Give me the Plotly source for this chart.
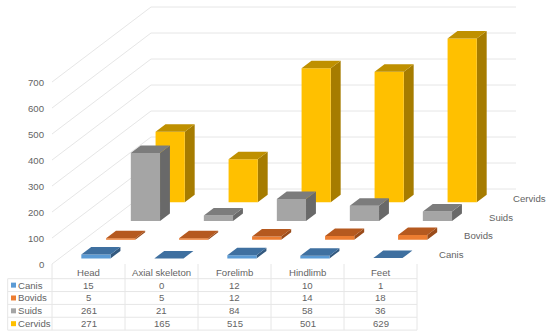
import plotly.graph_objects as go

# ---------- data ----------
categories = ["Head", "Axial skeleton", "Forelimb", "Hindlimb", "Feet"]
series_names = ["Canis", "Bovids", "Suids", "Cervids"]
canis = [15, 0, 12, 10, 1]
bovids = [5, 5, 12, 14, 18]
suids = [261, 21, 84, 58, 36]
cervids = [271, 165, 515, 501, 629]
value_ticks = [0, 100, 200, 300, 400, 500, 600, 700]

series_values = [canis, bovids, suids, cervids]
front_colors = ["#5B9BD5", "#ED7D31", "#A5A5A5", "#FFC000"]
top_colors = ["#3F70A0", "#B5591F", "#7C7C7C", "#BF9000"]
side_colors = ["#33597F", "#9A4C1B", "#696969", "#A67C00"]

# ---------- layout constants ----------
W, H = 550, 336
LEFT_PX, ZERO_PX = 52.0, 264.0      # front-left floor corner
CAT_PX, VAL_PX = 73.0, 0.26         # px per category, px per value unit
DEPTH_X_PX, DEPTH_Y_PX = 24.75, 18.75   # oblique shift per series
TEXT = "#646464"
GRID = "#E6E6E6"
FONT = "Liberation Sans"
FS = 9.6

BAR_W = 0.4      # fraction of a category
BAR_D = 0.4      # fraction of a series slot
PAD = 0.3


def project(cat, depth, value):
    """Oblique projection into axis units (category, value)."""
    return (cat + depth * DEPTH_X_PX / CAT_PX,
            value + depth * DEPTH_Y_PX / VAL_PX)


def poly(points):
    pts = [project(*p) for p in points]
    pts.append(pts[0])
    return [p[0] for p in pts] + [None], [p[1] for p in pts] + [None]


fig = go.Figure()


def add_fill(xs, ys, color):
    fig.add_trace(go.Scatter(x=xs, y=ys, mode="lines", fill="toself",
                             fillcolor=color, line=dict(width=0, color=color),
                             hoverinfo="skip", showlegend=False))


# wall gridlines
gx, gy = [], []
for v in value_ticks:
    for p in [project(0, 0, v), project(0, 4, v), project(5, 4, v)]:
        gx.append(p[0])
        gy.append(p[1])
    gx.append(None)
    gy.append(None)
fig.add_trace(go.Scatter(x=gx, y=gy, mode="lines", line=dict(color=GRID, width=1),
                         hoverinfo="skip", showlegend=False))

# bars, back row first
for s in range(len(series_names) - 1, -1, -1):
    fx, fy, tx, ty, sx, sy = [], [], [], [], [], []
    for c, v in enumerate(series_values[s]):
        x0, x1 = c + PAD, c + PAD + BAR_W
        d0, d1 = s + PAD, s + PAD + BAR_D
        a, b = poly([(x0, d0, 0), (x1, d0, 0), (x1, d0, v), (x0, d0, v)])
        fx += a; fy += b
        a, b = poly([(x0, d0, v), (x1, d0, v), (x1, d1, v), (x0, d1, v)])
        tx += a; ty += b
        a, b = poly([(x1, d0, 0), (x1, d1, 0), (x1, d1, v), (x1, d0, v)])
        sx += a; sy += b
    add_fill(sx, sy, side_colors[s])
    add_fill(fx, fy, front_colors[s])
    add_fill(tx, ty, top_colors[s])

ann = []


def label(x, y, text, anchor="center", xref="x", yref="y"):
    ann.append(dict(x=x, y=y, text=text, xref=xref, yref=yref, showarrow=False,
                    xanchor=anchor, yanchor="middle", borderpad=0,
                    font=dict(family=FONT, size=FS, color=TEXT)))


# value axis labels
for v in value_ticks:
    label(-7.0 / CAT_PX, v, str(v), "right")

# series labels on the depth axis
for s, name in enumerate(series_names):
    px_, _ = project(5, s, 0)
    label(px_ + 21.0 / CAT_PX, (s + 0.5) * DEPTH_Y_PX / VAL_PX, name, "left")

# data table, placed in figure pixels
TABLE_L = 7.7
HEAD_T = 264.0
ROW_T = 278.7
ROW_H = 12.85
px = lambda v: v / W
py = lambda v: 1 - v / H
shapes = []


def rule(x0, y0, x1, y1):
    shapes.append(dict(type="line", xref="paper", yref="paper",
                       x0=px(x0), y0=py(y0), x1=px(x1), y1=py(y1),
                       line=dict(color=GRID, width=1), layer="below"))


n_rows = len(series_names)
table_r = LEFT_PX + CAT_PX * len(categories)
table_b = ROW_T + ROW_H * n_rows
for r in range(n_rows + 1):
    rule(TABLE_L, ROW_T + r * ROW_H, table_r, ROW_T + r * ROW_H)
rule(TABLE_L, ROW_T, TABLE_L, table_b)
for c in range(len(categories) + 1):
    xc = LEFT_PX + c * CAT_PX
    rule(xc, HEAD_T, xc, table_b)

for c, name in enumerate(categories):
    xc = LEFT_PX + (c + 0.5) * CAT_PX
    label(px(xc), py(272.6), name, "center", "paper", "paper")
    for r in range(n_rows):
        label(px(xc), py(ROW_T + (r + 0.5) * ROW_H), str(series_values[r][c]),
              "center", "paper", "paper")

for r, name in enumerate(series_names):
    yc = ROW_T + (r + 0.5) * ROW_H
    label(px(16.5), py(yc), name, "left", "paper", "paper")
    shapes.append(dict(type="rect", xref="paper", yref="paper",
                       x0=px(11), x1=px(16), y0=py(yc - 2.5), y1=py(yc + 2.5),
                       fillcolor=front_colors[r], line=dict(width=0)))

fig.update_layout(
    width=W, height=H, margin=dict(l=0, r=0, t=0, b=0),
    paper_bgcolor="white", plot_bgcolor="white", showlegend=False,
    xaxis=dict(visible=False, range=[-LEFT_PX / CAT_PX, (W - LEFT_PX) / CAT_PX], fixedrange=True),
    yaxis=dict(visible=False, range=[-(H - ZERO_PX) / VAL_PX, ZERO_PX / VAL_PX], fixedrange=True),
    annotations=ann, shapes=shapes,
)
fig.write_html("out.html", config=dict(displayModeBar=False),
               post_script="document.body.style.margin='0';document.documentElement.style.overflow='hidden';")
